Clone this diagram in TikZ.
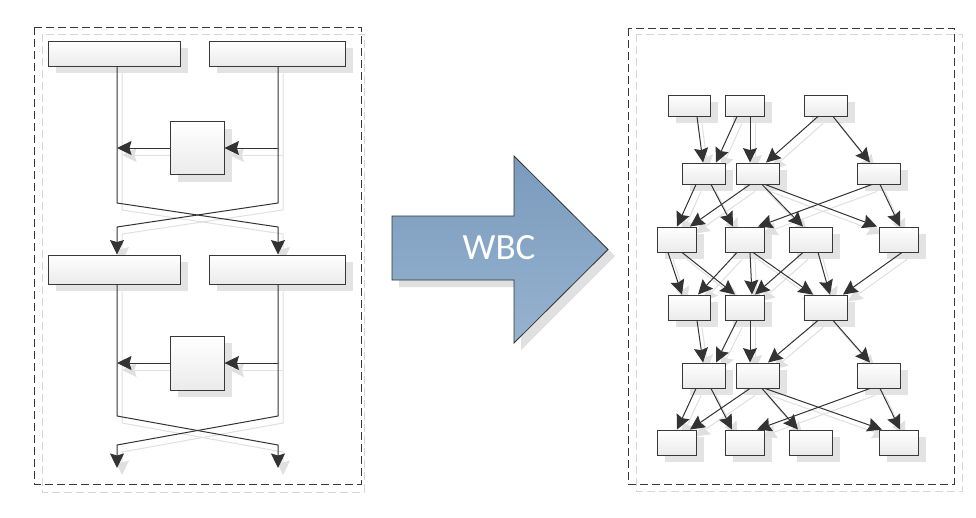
\documentclass[tikz,border=0pt]{standalone}
\usepackage{fontspec}
\newfontfamily\carl{Carlito}
\usetikzlibrary{arrows.meta,shadows,calc}
\pgfdeclarelayer{bg}
\pgfsetlayers{bg,main}
\definecolor{ablueA}{RGB}{122,155,189}
\definecolor{ablueB}{RGB}{150,178,207}
\tikzset{
  boxn/.style={draw=black!78, line width=0.9pt, top color=white, bottom color=black!8, inner sep=0pt,
    general shadow={shadow xshift=8pt, shadow yshift=-7pt, fill=black!11}},
  arr/.style={draw=black!80, line width=1pt, -{Stealth[length=14.5pt,width=14pt,inset=2pt]}},
  sarr/.style={draw=black!12, line width=1pt, -{Stealth[length=14.5pt,width=14pt,inset=2pt]}},
  panel/.style={draw=black!78, line width=0.9pt, dash pattern=on 8pt off 4pt},
  spanel/.style={draw=black!16, line width=0.9pt, dash pattern=on 8pt off 4pt},
  edgeln/.style={arr}
}
\newcommand\re[4]{\draw[edgeln] (#1.south -| #2,0) -- (#3.north -| #4,0);}
\newcommand\leftedges{%
  \draw[edgeln] (T1.south -| 117,0) -- (117,203) -- (278,227) -- (B2.north -| 278,0);
  \draw[edgeln] (T2.south -| 278,0) -- (278,203) -- (117,227) -- (B1.north -| 117,0);
  \draw[edgeln] (S1.west) -- (S1.west -| 117,0);
  \draw[edgeln] (S1.east -| 278,0) -- (S1.east);
  \draw[edgeln] (B1.south -| 117,0) -- (117,416) -- (278,445) -- (e1);
  \draw[edgeln] (B2.south -| 278,0) -- (278,416) -- (117,445) -- (e2);
  \draw[edgeln] (S2.west) -- (S2.west -| 117,0);
  \draw[edgeln] (S2.east -| 278,0) -- (S2.east);
}
\newcommand\rightedges{%
  \re{A}{697}{D}{703}
  \re{B}{737}{D}{716}
  \re{B}{750}{E}{750}
  \re{C}{818}{E}{766}
  \re{C}{833}{F}{870}
  \re{D}{696}{G}{677}
  \re{D}{711}{H}{733}
  \re{E}{750}{G}{690}
  \re{E}{762}{I}{803}
  \re{E}{765}{J}{877}
  \re{F}{872}{H}{758}
  \re{F}{880}{J}{900}
  \re{G}{668}{K}{682}
  \re{G}{682}{L}{735}
  \re{H}{737}{K}{698}
  \re{H}{750}{L}{752}
  \re{H}{753}{M}{813}
  \re{I}{803}{L}{755}
  \re{I}{818}{M}{830}
  \re{J}{902}{M}{843}
  \re{K}{697}{N}{703}
  \re{L}{737}{N}{716}
  \re{L}{750}{O}{750}
  \re{M}{818}{O}{768}
  \re{M}{833}{P}{870}
  \re{N}{696}{Q}{677}
  \re{N}{711}{R}{732}
  \re{O}{750}{Q}{690}
  \re{O}{762}{S}{798}
  \re{O}{765}{T}{882}
  \re{P}{870}{R}{757}
  \re{P}{880}{T}{900}
}
\begin{document}
\begin{tikzpicture}[x=1pt,y=-1pt]
\useasboundingbox (0,0) rectangle (976,517);
\begin{pgfonlayer}{bg}
\fill[white] (0,0) rectangle (976,517);
\end{pgfonlayer}

% panels
\draw[spanel] (42,34) rectangle (364,492);
\draw[panel] (34,27) rectangle (361,484);
\draw[spanel] (636,34) rectangle (962,491);
\draw[panel] (628,28) rectangle (954,484);

% left panel nodes
\node[boxn, minimum width=132pt, minimum height=25pt] (T1) at (114,53.5) {};
\node[boxn, minimum width=136pt, minimum height=25pt] (T2) at (277,53.5) {};
\node[boxn, minimum width=54pt, minimum height=53pt] (S1) at (197,148) {};
\node[boxn, minimum width=132pt, minimum height=29pt] (B1) at (114,269.5) {};
\node[boxn, minimum width=136pt, minimum height=29pt] (B2) at (277,269.5) {};
\node[boxn, minimum width=54pt, minimum height=54pt] (S2) at (197,363) {};
\coordinate (e1) at (278,468);
\coordinate (e2) at (117,468);

% big arrow
\fill[black!12] (399,223) -- (521,223) -- (521,163) -- (615,256) -- (521,350) -- (521,287) -- (399,287) -- cycle;
\shadedraw[top color=ablueA, bottom color=ablueB, draw=black!80, line width=0.8pt]
  (392,216) -- (514,216) -- (514,156) -- (608,249.5) -- (514,343) -- (514,280) -- (392,280) -- cycle;
\node[text=white, font=\carl\fontsize{37}{37}\selectfont] (wbc) at (499,248) {WBC};

% right panel nodes
\node[boxn, minimum width=42pt, minimum height=21pt] (A) at (689,105.5) {};
\node[boxn, minimum width=39pt, minimum height=21pt] (B) at (744.5,105.5) {};
\node[boxn, minimum width=43pt, minimum height=21pt] (C) at (825.5,105.5) {};
\node[boxn, minimum width=43pt, minimum height=21pt] (D) at (703.5,173.5) {};
\node[boxn, minimum width=43pt, minimum height=21pt] (E) at (757.5,173.5) {};
\node[boxn, minimum width=43pt, minimum height=21pt] (F) at (878.5,173.5) {};
\node[boxn, minimum width=39pt, minimum height=25pt] (G) at (676.5,239.5) {};
\node[boxn, minimum width=39pt, minimum height=25pt] (H) at (744.5,239.5) {};
\node[boxn, minimum width=43pt, minimum height=25pt] (I) at (810.5,239.5) {};
\node[boxn, minimum width=39pt, minimum height=25pt] (J) at (898.5,239.5) {};
\node[boxn, minimum width=42pt, minimum height=25pt] (K) at (689,307.5) {};
\node[boxn, minimum width=39pt, minimum height=25pt] (L) at (744.5,307.5) {};
\node[boxn, minimum width=43pt, minimum height=25pt] (M) at (825.5,307.5) {};
\node[boxn, minimum width=43pt, minimum height=25pt] (N) at (703.5,375.5) {};
\node[boxn, minimum width=43pt, minimum height=25pt] (O) at (757.5,375.5) {};
\node[boxn, minimum width=43pt, minimum height=25pt] (P) at (878.5,375.5) {};
\node[boxn, minimum width=39pt, minimum height=25pt] (Q) at (676.5,442.5) {};
\node[boxn, minimum width=39pt, minimum height=25pt] (R) at (744.5,442.5) {};
\node[boxn, minimum width=43pt, minimum height=25pt] (S) at (810.5,442.5) {};
\node[boxn, minimum width=39pt, minimum height=25pt] (T) at (898.5,442.5) {};

% edge shadows
\begin{pgfonlayer}{bg}
\begin{scope}[transform canvas={shift={(5pt,-7pt)}}, edgeln/.style={sarr}]
\leftedges
\rightedges
\end{scope}
\end{pgfonlayer}

% edges
\leftedges
\rightedges
\end{tikzpicture}
\end{document}
